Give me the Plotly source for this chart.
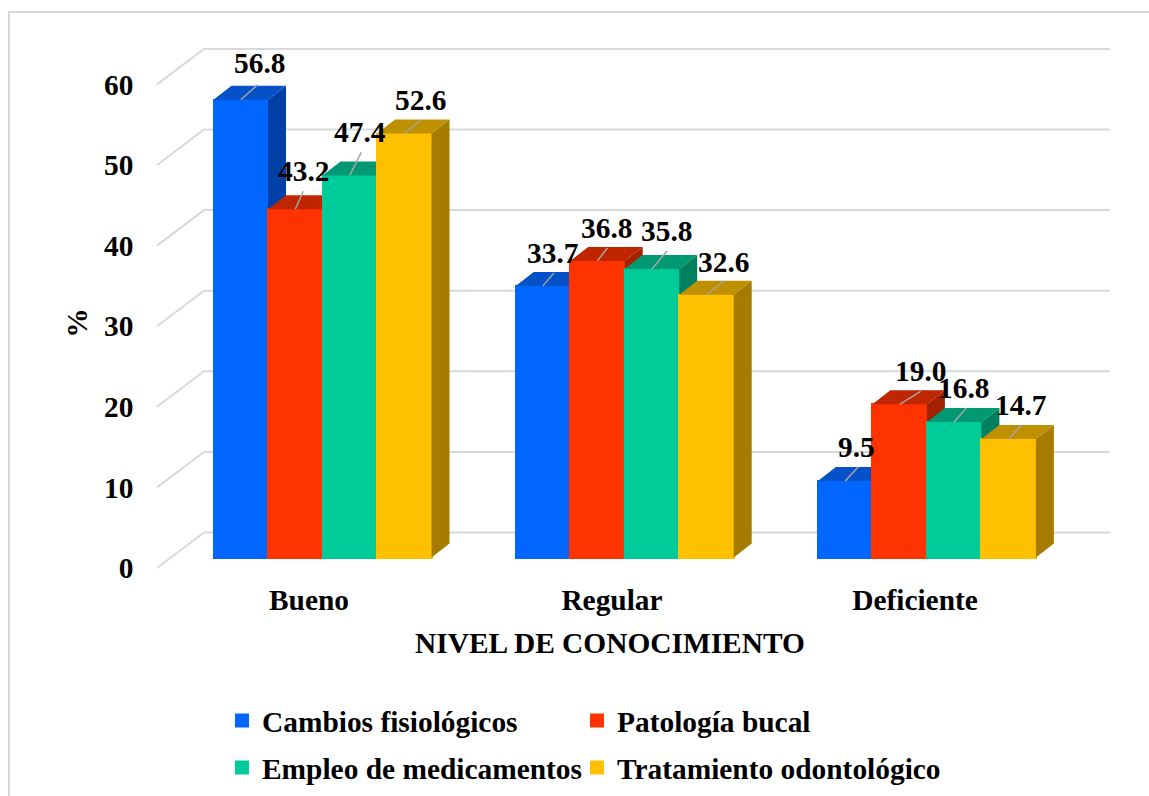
import plotly.graph_objects as go

CATEGORIES = ["Bueno", "Regular", "Deficiente"]
CAMBIOS = [56.8, 33.7, 9.5]
PATOLOGIA = [43.2, 36.8, 19.0]
EMPLEO = [47.4, 35.8, 16.8]
TRATAMIENTO = [52.6, 32.6, 14.7]
SERIES_NAMES = ["Cambios fisiológicos", "Patología bucal", "Empleo de medicamentos", "Tratamiento odontológico"]
Y_TICKS = [0, 10, 20, 30, 40, 50, 60]

SERIES = [CAMBIOS, PATOLOGIA, EMPLEO, TRATAMIENTO]
FRONT = ["#0066FF", "#FF3300", "#00CC99", "#FFC000"]
TOP = ["#0552C8", "#BF2600", "#009973", "#BF9000"]
SIDE = ["#0040A6", "#A32000", "#008060", "#A67C00"]

# label and leader offsets, in pixels from the top centre of each bar front
LABEL_OFFSET = [
    [(19, -37), (9.5, -33), (11, -34)],
    [(8.5, -38), (9.5, -33), (20.5, -33)],
    [(10.5, -43.5), (14.5, -38), (9.5, -34)],
    [(16.5, -33.5), (17.5, -33), (11.5, -34)],
]
LEADER_END = [
    [(17, -15), (11, -13), (13, -14)],
    [(8, -18), (10, -13), (21, -13)],
    [(11.5, -23), (15, -18), (12, -14)],
    [(16, -13), (18, -14), (13, -14)],
]
# legend entry placement (left edge, centre line) in pixels
LEGEND_AT = [(222, 721), (577, 721), (222, 768), (577, 768)]

W, H = 1149, 796
PLOT_L, PLOT_R, PLOT_T, PLOT_B = 110, 1110, 40, 606
PX_PER_UNIT = 8.06
PX_PER_CAT = 303.0
PX_PER_BAR_CAT = 302.2
Y0_TICK, Y0_BAR = 568, 557.5
X0_CAT, X0_BAR = 309.0, 322.5
BAR_PX = 54.5
DEPTH_X, DEPTH_Y = 18, 14
WALL_X, WALL_Y = 47, 35.5
WALL_LEFT = 157
FONT = "Liberation Serif"
FS = 29.4
INK = "#000000"
GRID = "#D9D9D9"


def yrange(y0):
    return [(y0 - PLOT_B) / PX_PER_UNIT, (y0 - PLOT_T) / PX_PER_UNIT]


def xrange_(x0, step):
    return [(PLOT_L - x0) / step, (PLOT_R - x0) / step]


bw = BAR_PX / PX_PER_BAR_CAT
dx = DEPTH_X / PX_PER_BAR_CAT
dy = DEPTH_Y / PX_PER_UNIT
fig = go.Figure()

# anchor trace for the main subplot, which carries the category labels
fig.add_trace(go.Scatter(x=[0, 1, 2], y=[0, 0, 0], mode="none", showlegend=False, hoverinfo="skip"))

# side wall and back wall gridlines, on the tick axis
xfront = (WALL_LEFT - X0_CAT) / PX_PER_CAT
xback = (WALL_LEFT + WALL_X - X0_CAT) / PX_PER_CAT
xright = (PLOT_R - X0_CAT) / PX_PER_CAT
sx, sy = [], []
for t in Y_TICKS:
    back = t + WALL_Y / PX_PER_UNIT
    sx += [xfront, xback, xright, None]
    sy += [t, back, back, None]
fig.add_trace(go.Scatter(x=sx, y=sy, yaxis="y2", mode="lines", line=dict(color=GRID, width=2),
                         showlegend=False, hoverinfo="skip"))

# one overlay per series, left to right, so that each bar hides the side of the previous one
legend_ids = ["legend", "legend2", "legend3", "legend4"]
for j, vals in enumerate(SERIES):
    ya = f"y{j + 3}"
    tx, ty, fx, fy = [], [], [], []
    for i, v in enumerate(vals):
        l = i + (j - 2) * bw
        r = l + bw
        tx += [l, r, r + dx, l + dx, l, None]
        ty += [v, v, v + dy, v + dy, v, None]
        fx += [r, r + dx, r + dx, r, r, None]
        fy += [0, dy, v + dy, v, 0, None]
    fig.add_trace(go.Bar(x=list(range(3)), y=vals, width=bw, offset=(j - 2) * bw, name=SERIES_NAMES[j],
                         xaxis="x2", yaxis=ya, marker=dict(color=FRONT[j], line=dict(color=FRONT[j], width=2)),
                         legend=legend_ids[j], showlegend=True, hoverinfo="skip"))
    fig.add_trace(go.Scatter(x=fx, y=fy, xaxis="x2", yaxis=ya, mode="lines", fill="toself", fillcolor=SIDE[j],
                             line=dict(width=0, color=SIDE[j]), showlegend=False, hoverinfo="skip"))
    fig.add_trace(go.Scatter(x=tx, y=ty, xaxis="x2", yaxis=ya, mode="lines", fill="toself", fillcolor=TOP[j],
                             line=dict(width=0, color=TOP[j]), showlegend=False, hoverinfo="skip"))

# leader lines and value labels
lx, ly = [], []
annotations = []
for j, vals in enumerate(SERIES):
    for i, v in enumerate(vals):
        c = i + (j - 1.5) * bw
        ex, ey = LEADER_END[j][i]
        lx += [c, c + ex / PX_PER_BAR_CAT, None]
        ly += [v, v - ey / PX_PER_UNIT, None]
        ox, oy = LABEL_OFFSET[j][i]
        annotations.append(dict(text=f"{v:.1f}", x=c, y=v, xref="x2", yref="y7", xshift=ox, yshift=-oy,
                                showarrow=False, xanchor="center", yanchor="middle",
                                font=dict(family=FONT, size=FS, color=INK, weight="bold")))
fig.add_trace(go.Scatter(x=lx, y=ly, xaxis="x2", yaxis="y7", mode="lines",
                         line=dict(color="#A6A6A6", width=1.5), showlegend=False, hoverinfo="skip"))

layout_axes = {}
for k in range(3, 8):
    layout_axes[f"yaxis{k}"] = dict(range=yrange(Y0_BAR), overlaying="y", visible=False, fixedrange=True)

tickfont = dict(family=FONT, size=FS, color=INK, weight="bold")
legends = {}
for name, (px, py) in zip(legend_ids, LEGEND_AT):
    legends[name] = dict(xanchor="left", yanchor="middle", x=px / W, y=1 - py / H, font=tickfont,
                         bgcolor="rgba(0,0,0,0)")

fig.update_layout(
    width=W, height=H, autosize=False,
    margin=dict(l=0, r=0, t=0, b=0),
    paper_bgcolor="#FFFFFF", plot_bgcolor="rgba(0,0,0,0)",
    showlegend=True,
    bargap=0,
    xaxis=dict(domain=[PLOT_L / W, PLOT_R / W], range=xrange_(X0_CAT, PX_PER_CAT), tickmode="array",
               tickvals=[0, 1, 2], ticktext=CATEGORIES, tickfont=tickfont, showgrid=False, zeroline=False,
               showline=False, ticks="", anchor="free", position=1 - 580 / H,
               title=dict(text="<b>NIVEL DE CONOCIMIENTO</b>", font=tickfont, standoff=17)),
    xaxis2=dict(range=xrange_(X0_BAR, PX_PER_BAR_CAT), overlaying="x", visible=False),
    yaxis=dict(domain=[1 - PLOT_B / H, 1 - PLOT_T / H], range=yrange(Y0_TICK), visible=False),
    yaxis2=dict(range=yrange(Y0_TICK), overlaying="y", anchor="free", position=133.5 / W, side="left",
                tickmode="array", tickvals=Y_TICKS, tickfont=tickfont, showgrid=False, zeroline=False,
                showline=False, ticks="",
                title=dict(text="<b>%</b>", font=tickfont, standoff=6)),
    annotations=annotations,
    shapes=[dict(type="rect", xref="paper", yref="paper", x0=9 / W, x1=1.01, y0=-0.01, y1=1 - 12 / H,
                 line=dict(color=GRID, width=2), fillcolor="rgba(0,0,0,0)", layer="below")],
    **legends,
    **layout_axes,
)

fig.write_html("out.html", config={"displayModeBar": False},
               post_script="document.body.style.margin='0';")
